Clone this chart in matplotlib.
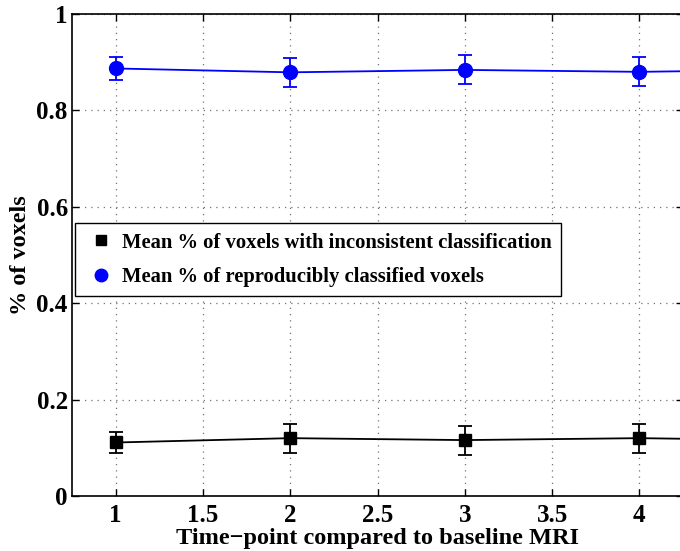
import numpy as np
import matplotlib
matplotlib.use("Agg")
import matplotlib.pyplot as plt
from matplotlib.lines import Line2D

plt.rcParams['font.family'] = ['Liberation Serif', 'DejaVu Serif']
plt.rcParams['font.weight'] = 'bold'

# time points (the 5th one lies outside the visible range, the line runs off to the right)
timepoints = [1, 2, 3, 4, 5]

reproducible_mean = [0.887, 0.879, 0.884, 0.880, 0.885]
reproducible_err = [0.023, 0.030, 0.030, 0.030, 0.030]

inconsistent_mean = [0.111, 0.120, 0.116, 0.120, 0.115]
inconsistent_err = [0.022, 0.030, 0.030, 0.030, 0.030]

xticks = [1, 1.5, 2, 2.5, 3, 3.5, 4]
yticks = [0, 0.2, 0.4, 0.6, 0.8, 1]

labels = ["Mean % of voxels with inconsistent classification",
          "Mean % of reproducibly classified voxels"]

fig = plt.figure(figsize=(6.8, 5.51), dpi=100)
ax = fig.add_axes([72 / 680, 1 - 496 / 551, 611 / 680, 482 / 551])

ax.errorbar(timepoints, inconsistent_mean, yerr=inconsistent_err, color='k',
            marker='s', markersize=8, linewidth=1.3, capsize=5, capthick=1.3,
            elinewidth=1.3)
ax.errorbar(timepoints, reproducible_mean, yerr=reproducible_err, color='b',
            marker='o', markersize=10, linewidth=1.3, capsize=5, capthick=1.3,
            elinewidth=1.3)

ax.set_xlim(0.75, 4.25)
ax.set_ylim(0, 1)
ax.set_xticks(xticks)
ax.set_xticklabels([f"{t:g}" for t in xticks])
ax.set_yticks(yticks)
ax.set_yticklabels([f"{t:g}" for t in yticks])
ax.tick_params(direction='in', length=5, width=1, labelsize=18,
               top=True, right=True)
ax.tick_params(axis='x', pad=6)
ax.tick_params(axis='y', pad=3)
for s in ax.spines.values():
    s.set_linewidth(1.2)

ax.grid(True, linestyle=(0, (1, 4)), color='0.45', linewidth=0.9)

ax.set_xlabel("Time\u2212point compared to baseline MRI", fontsize=17.5,
              fontweight='bold')
ax.xaxis.set_label_coords(0.5, -0.066)
ax.set_ylabel("% of voxels", fontsize=17.5, fontweight='bold', labelpad=4)

h2 = [Line2D([], [], color='k', marker='s', linestyle='none', markersize=7),
      Line2D([], [], color='b', marker='o', linestyle='none', markersize=9)]
leg = ax.legend(h2, labels, loc='upper left', bbox_to_anchor=(0.005, 0.566),
                borderaxespad=0, fontsize=14.9, frameon=True, fancybox=False,
                edgecolor='k', handlelength=1.6, handletextpad=0.2,
                labelspacing=0.7, borderpad=0.45)
leg.get_frame().set_linewidth(1.0)
leg.get_frame().set_alpha(1)

fig.savefig("out.png", dpi=100)
